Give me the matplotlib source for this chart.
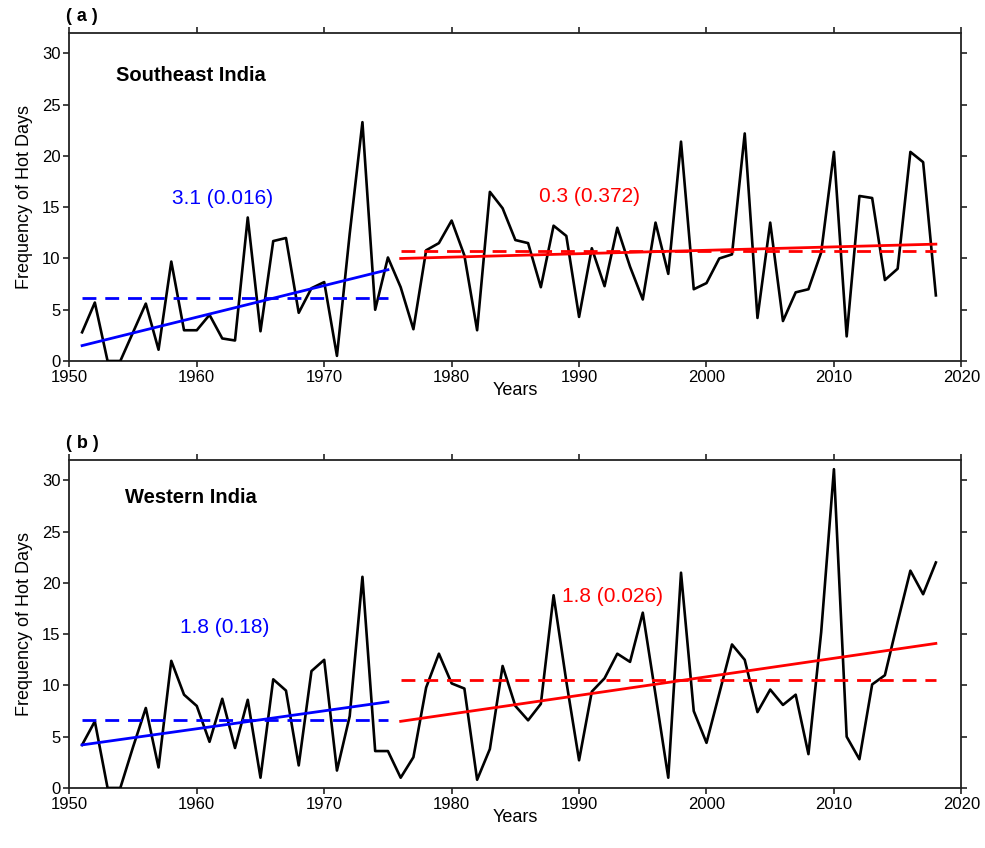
"""
Frequency of hot days — Southeast vs Western India, 1951-2018,
with separate linear trends for 1951-1975 and 1976-2018.
"""
import numpy as np
import matplotlib.pyplot as plt

plt.rcParams["font.family"] = ["Liberation Sans", "DejaVu Sans"]

years = np.arange(1951, 2019)

southeast = [
    2.8, 5.7, 0.0, 0.0, 2.8, 5.6, 1.1, 9.7, 3.0, 3.0,          # 1951-1960
    4.5, 2.2, 2.0, 14.0, 2.9, 11.7, 12.0, 4.7, 7.1, 7.7,       # 1961-1970
    0.5, 12.4, 23.3, 5.0, 10.1, 7.2, 3.1, 10.8, 11.5, 13.7,    # 1971-1980
    10.3, 3.0, 16.5, 14.9, 11.8, 11.5, 7.2, 13.2, 12.2, 4.3,   # 1981-1990
    11.0, 7.3, 13.0, 9.2, 6.0, 13.5, 8.5, 21.4, 7.0, 7.6,      # 1991-2000
    10.0, 10.4, 22.2, 4.2, 13.5, 3.9, 6.7, 7.0, 10.6, 20.4,    # 2001-2010
    2.4, 16.1, 15.9, 7.9, 9.0, 20.4, 19.4, 6.4,                # 2011-2018
]

western = [
    4.2, 6.5, 0.0, 0.0, 4.0, 7.8, 2.0, 12.4, 9.1, 8.0,         # 1951-1960
    4.5, 8.7, 3.9, 8.6, 1.0, 10.6, 9.5, 2.2, 11.4, 12.5,       # 1961-1970
    1.7, 7.0, 20.6, 3.6, 3.6, 1.0, 3.0, 9.8, 13.1, 10.2,       # 1971-1980
    9.7, 0.8, 3.8, 11.9, 8.0, 6.6, 8.2, 18.8, 10.4, 2.7,       # 1981-1990
    9.4, 10.7, 13.1, 12.3, 17.1, 9.1, 1.0, 21.0, 7.5, 4.4,     # 1991-2000
    9.2, 14.0, 12.5, 7.4, 9.6, 8.1, 9.1, 3.3, 15.2, 31.1,      # 2001-2010
    5.0, 2.8, 10.1, 11.0, 16.2, 21.2, 18.9, 22.0,              # 2011-2018
]

# trend lines as drawn in the original (value at first / last year of each period)
periods = [(1951, 1975), (1976, 2018)]
se_trend_ends = [(1.5, 8.9), (10.0, 11.4)]
se_period_means = [6.1, 10.7]
we_trend_ends = [(4.2, 8.4), (6.5, 14.1)]
we_period_means = [6.6, 10.5]

regions = ["Southeast India", "Western India"]
panel_tags = ["( a )", "( b )"]
early_labels = ["3.1 (0.016)", "1.8 (0.18)"]
late_labels = ["0.3 (0.372)", "1.8 (0.026)"]
period_colors = ["#0000ff", "#ff0000"]


def draw_panel(ax, vals, trend_ends, means, region, tag, labels, lab_pos):
    ax.plot(years, vals, color="black", lw=1.9, zorder=3)

    for (y0, y1), ends, mean, col in zip(periods, trend_ends, means, period_colors):
        ax.plot([y0, y1], ends, color=col, lw=2.0, zorder=4)
        ax.plot([y0, y1], [mean, mean], color=col, lw=2.0,
                ls=(0, (5, 3.2)), zorder=4)

    for lab, pos, col in zip(labels, lab_pos[:2], period_colors):
        ax.text(pos[0], pos[1], lab, color=col, fontsize=15,
                ha="center", va="center")
    ax.text(lab_pos[2][0], lab_pos[2][1], region, fontsize=14.5,
            fontweight="bold", ha="left", va="center")
    ax.text(-0.004, 1.05, tag, transform=ax.transAxes, fontsize=13,
            fontweight="bold", ha="left", va="center")

    ax.set_xlim(1950, 2020)
    ax.set_ylim(0, 32)
    ax.set_xticks(range(1950, 2021, 10))
    ax.set_yticks(range(0, 31, 5))
    ax.tick_params(direction="out", length=4.5, width=1.2, labelsize=12, pad=2,
                   top=True, right=True, colors="#222222", labelcolor="black")
    ax.tick_params(axis="x", pad=2)
    for sp in ax.spines.values():
        sp.set_linewidth(1.3)
        sp.set_color("#222222")
    ax.set_xlabel("Years", fontsize=13, labelpad=-2)
    ax.set_ylabel("Frequency of Hot Days", fontsize=13, labelpad=6)


fig = plt.figure(figsize=(9.85, 8.48), dpi=100)
ax_a = fig.add_axes([0.0704, 0.5743, 0.9056, 0.3868])
ax_b = fig.add_axes([0.0704, 0.0708, 0.9056, 0.3868])

draw_panel(ax_a, southeast, se_trend_ends, se_period_means, regions[0], panel_tags[0],
           [early_labels[0], late_labels[0]],
           [(1962.0, 15.9), (1990.8, 16.0), (1953.7, 27.9)])
draw_panel(ax_b, western, we_trend_ends, we_period_means, regions[1], panel_tags[1],
           [early_labels[1], late_labels[1]],
           [(1962.2, 15.7), (1992.6, 18.7), (1954.4, 28.3)])

fig.savefig("out.png", dpi=100)
